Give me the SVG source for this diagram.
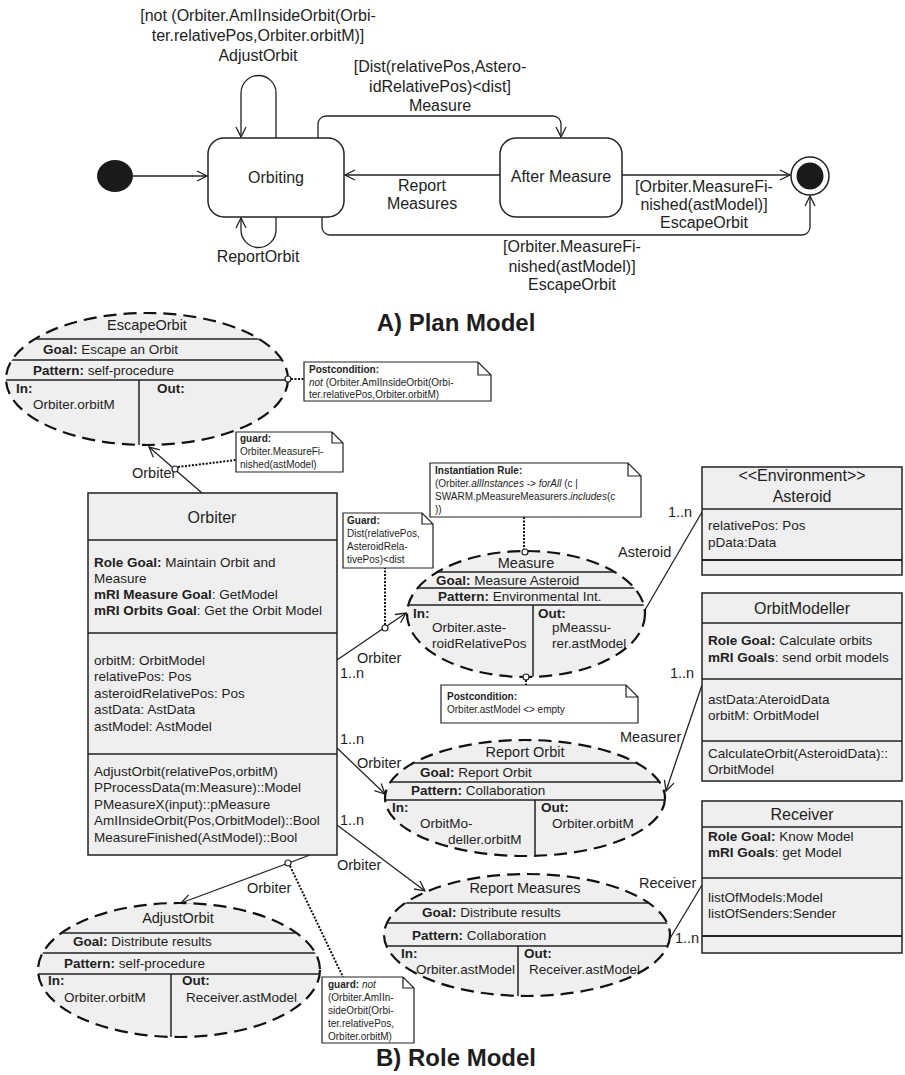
<svg xmlns="http://www.w3.org/2000/svg" width="905" height="1075" viewBox="0 0 905 1075">
<defs>
<style>
text{font-family:"Liberation Sans",Arial,sans-serif;fill:#1e1e1e}
.p{font-size:16px}
.c{text-anchor:middle}
.b{font-weight:bold}
.i{font-style:italic}
.cl{font-size:13.5px}
.ct{font-size:16px}
.et{font-size:14.5px}
.eb{font-size:13.5px}
.lb{font-size:14.5px}
.n{font-size:10px}
.ttl{font-size:24px;font-weight:bold}
.ln{stroke:#222;stroke-width:1.3;fill:none}
.st{fill:#fff;stroke:#222;stroke-width:1.5}
.box{fill:#efefef;stroke:#222;stroke-width:1.5}
.sep{stroke:#222;stroke-width:1.5;fill:none}
.ell{fill:#efefef;stroke:#111;stroke-width:2.2;stroke-dasharray:13 7}
.note{fill:#fff;stroke:#222;stroke-width:1.2}
.dot{stroke:#111;stroke-width:2;stroke-dasharray:2 1.5;fill:none}
.knob{fill:#fff;stroke:#222;stroke-width:1.2}
</style>
<marker id="a" markerWidth="12" markerHeight="12" refX="11" refY="6" orient="auto" markerUnits="userSpaceOnUse"><path d="M1,1 L11,6 L1,11" fill="none" stroke="#222" stroke-width="1.3"/></marker>
<clipPath id="ce"><ellipse cx="147" cy="379" rx="141" ry="66"/></clipPath>
<clipPath id="cm"><ellipse cx="526" cy="614" rx="119" ry="63"/></clipPath>
<clipPath id="cro"><ellipse cx="525" cy="798" rx="140" ry="58"/></clipPath>
<clipPath id="crm"><ellipse cx="527" cy="935" rx="143" ry="61"/></clipPath>
<clipPath id="ca"><ellipse cx="179" cy="970" rx="141" ry="67"/></clipPath>
</defs>
<rect width="905" height="1075" fill="#fff"/>

<!-- Plan model -->
<g id="plan-connectors" class="ln">
<path d="M133,176 H207" marker-end="url(#a)"/>
<path d="M276,138 V93 A17.5,17.5 0 0 0 241,93 V137" marker-end="url(#a)"/>
<path d="M276,217 V230 A17.5,17.5 0 0 1 241,230 V218" marker-end="url(#a)"/>
<path d="M318,138 V124 A8,8 0 0 1 326,116 H553 A8,8 0 0 1 561,124 V137" marker-end="url(#a)"/>
<path d="M500,175 H345" marker-end="url(#a)"/>
<path d="M622,175 H790" marker-end="url(#a)"/>
<path d="M322,217 V227 A8,8 0 0 0 330,235 H802 A8,8 0 0 0 810,227 V196" marker-end="url(#a)"/>
</g>
<g id="plan-labels">
<text x="258" y="21" class="p c">[not (Orbiter.AmIInsideOrbit(Orbi-</text>
<text x="258" y="41" class="p c">ter.relativePos,Orbiter.orbitM)]</text>
<text x="258" y="61" class="p c">AdjustOrbit</text>
<text x="440" y="72" class="p c">[Dist(relativePos,Astero-</text>
<text x="440" y="92" class="p c">idRelativePos)&lt;dist]</text>
<text x="440" y="111" class="p c">Measure</text>
<text x="422" y="191" class="p c">Report</text>
<text x="422" y="209" class="p c">Measures</text>
<text x="704" y="192" class="p c">[Orbiter.MeasureFi-</text>
<text x="704" y="210" class="p c">nished(astModel)]</text>
<text x="704" y="228" class="p c">EscapeOrbit</text>
<text x="572" y="252" class="p c">[Orbiter.MeasureFi-</text>
<text x="572" y="272" class="p c">nished(astModel)]</text>
<text x="572" y="290" class="p c">EscapeOrbit</text>
<text x="258" y="262" class="p c">ReportOrbit</text>
</g>
<g id="initial"><ellipse cx="115" cy="176" rx="18" ry="16" fill="#1a1a1a"/></g>
<g id="orbiting"><rect x="208" y="138" width="136" height="79" rx="16" class="st"/><text x="276" y="183" class="p c">Orbiting</text></g>
<g id="after-measure"><rect x="500" y="138" width="122" height="79" rx="16" class="st"/><text x="561" y="182" class="p c">After Measure</text></g>
<g id="final"><circle cx="810" cy="176" r="19" class="st"/><circle cx="810" cy="176" r="13.5" fill="#1a1a1a"/></g>
<text x="456" y="331" class="ttl c">A) Plan Model</text>

<!-- Role model connectors -->
<g id="role-connectors">
<g class="ln">
<path d="M202,493 L149,447" marker-end="url(#a)"/>
<path d="M337,660 L406,613" marker-end="url(#a)"/>
<path d="M337,748 L385,794" marker-end="url(#a)"/>
<path d="M337,825 L425,891" marker-end="url(#a)"/>
<path d="M310,855 L181,903" marker-end="url(#a)"/>
<path d="M702,512 L645,610"/>
<path d="M702,685 L666,791" marker-end="url(#a)"/>
<path d="M702,885 L669,940"/>
</g>
<g class="dot">
<path d="M291,379 H304"/>
<path d="M178,467 L236,460"/>
<path d="M385,625 V568"/>
<path d="M524,517 V549"/>
<path d="M526,680 V685"/>
<path d="M290,866 L343,977"/>
</g>
<g class="lb">
<text x="132" y="478">Orbiter</text>
<text x="357" y="663">Orbiter</text>
<text x="340" y="678">1..n</text>
<text x="340" y="744">1..n</text>
<text x="357" y="768">Orbiter</text>
<text x="340" y="825">1..n</text>
<text x="337" y="870">Orbiter</text>
<text x="247" y="893">Orbiter</text>
<text x="618" y="557">Asteroid</text>
<text x="668" y="517">1..n</text>
<text x="670" y="678">1..n</text>
<text x="620" y="742">Measurer</text>
<text x="639" y="888">Receiver</text>
<text x="675" y="943">1..n</text>
</g>
</g>

<!-- EscapeOrbit -->
<g id="escape-orbit">
<ellipse cx="147" cy="379" rx="141" ry="66" class="ell"/>
<path clip-path="url(#ce)" class="sep" d="M0,339 H300 M0,360 H300 M0,380 H300 M139,380 V450"/>
<text x="147" y="330" class="et c">EscapeOrbit</text>
<text x="43" y="354" class="eb"><tspan class="b">Goal:</tspan> Escape an Orbit</text>
<text x="33" y="375" class="eb"><tspan class="b">Pattern:</tspan> self-procedure</text>
<text x="16" y="393" class="eb b">In:</text>
<text x="157" y="393" class="eb b">Out:</text>
<text x="33" y="409" class="eb">Orbiter.orbitM</text>
<circle cx="288" cy="379" r="3" class="knob"/>
</g>
<g id="note-escape-post">
<path d="M304,362 H478 L491,375 V401 H304 Z M478,362 V375 H491" class="note"/>
<text x="309" y="373" class="n b">Postcondition:</text>
<text x="309" y="386" class="n"><tspan class="i">not</tspan> (Orbiter.AmIInsideOrbit(Orbi-</text>
<text x="309" y="398" class="n">ter.relativePos,Orbiter.orbitM)</text>
</g>
<g id="note-escape-guard">
<path d="M236,432 H332 L343,443 V472 H236 Z M332,432 V443 H343" class="note"/>
<text x="240" y="442" class="n b">guard:</text>
<text x="240" y="455" class="n">Orbiter.MeasureFi-</text>
<text x="240" y="468" class="n">nished(astModel)</text>
<circle cx="175" cy="469" r="3" class="knob"/>
</g>

<!-- Orbiter -->
<g id="orbiter">
<rect x="88" y="493" width="249" height="362" class="box"/>
<path class="sep" d="M88,540 H337 M88,633 H337 M88,754 H337"/>
<text x="212" y="523" class="ct c">Orbiter</text>
<g class="cl">
<text x="94" y="567"><tspan class="b">Role Goal:</tspan> Maintain Orbit and</text>
<text x="94" y="583">Measure</text>
<text x="94" y="599"><tspan class="b">mRI Measure Goal</tspan>: GetModel</text>
<text x="94" y="615"><tspan class="b">mRI Orbits Goal</tspan>: Get the Orbit Model</text>
<text x="94" y="665">orbitM: OrbitModel</text>
<text x="94" y="681">relativePos: Pos</text>
<text x="94" y="698">asteroidRelativePos: Pos</text>
<text x="94" y="714">astData: AstData</text>
<text x="94" y="731">astModel: AstModel</text>
<text x="94" y="776">AdjustOrbit(relativePos,orbitM)</text>
<text x="94" y="792">PProcessData(m:Measure)::Model</text>
<text x="94" y="809">PMeasureX(input)::pMeasure</text>
<text x="94" y="825">AmIInsideOrbit(Pos,OrbitModel)::Bool</text>
<text x="94" y="842">MeasureFinished(AstModel)::Bool</text>
</g>
</g>

<!-- Measure -->
<g id="measure">
<ellipse cx="526" cy="614" rx="119" ry="63" class="ell"/>
<path clip-path="url(#cm)" class="sep" d="M400,572 H660 M400,588 H660 M400,605 H660 M533,605 V680"/>
<text x="526" y="568" class="et c">Measure</text>
<text x="436" y="585" class="eb"><tspan class="b">Goal:</tspan> Measure Asteroid</text>
<text x="438" y="601" class="eb"><tspan class="b">Pattern:</tspan> Environmental Int.</text>
<text x="413" y="618" class="eb b">In:</text>
<text x="538" y="618" class="eb b">Out:</text>
<text x="432" y="632" class="eb">Orbiter.aste-</text>
<text x="432" y="648" class="eb">roidRelativePos</text>
<text x="552" y="632" class="eb">pMeassu-</text>
<text x="552" y="648" class="eb">rer.astModel</text>
<circle cx="525" cy="552" r="3" class="knob"/>
<circle cx="526" cy="677" r="3" class="knob"/>
</g>
<g id="note-instantiation">
<path d="M430,463 H628 L641,476 V517 H430 Z M628,463 V476 H641" class="note"/>
<text x="435" y="474" class="n b">Instantiation Rule:</text>
<text x="435" y="487" class="n">(Orbiter.<tspan class="i">allInstances</tspan> -&gt; <tspan class="i">forAll</tspan> (c |</text>
<text x="435" y="500" class="n">SWARM.pMeasureMeasurers.<tspan class="i">includes</tspan>(c</text>
<text x="435" y="513" class="n">))</text>
</g>
<g id="note-measure-guard">
<path d="M343,513 H422 L433,524 V568 H343 Z M422,513 V524 H433" class="note"/>
<text x="347" y="524" class="n b">Guard:</text>
<text x="347" y="537" class="n">Dist(relativePos,</text>
<text x="347" y="550" class="n">AsteroidRela-</text>
<text x="347" y="563" class="n">tivePos)&lt;dist</text>
<circle cx="385" cy="628" r="3" class="knob"/>
</g>
<g id="note-measure-post">
<path d="M441,685 H626 L638,697 V723 H441 Z M626,685 V697 H638" class="note"/>
<text x="447" y="700" class="n b">Postcondition:</text>
<text x="447" y="713" class="n">Orbiter.astModel &lt;&gt; empty</text>
</g>

<!-- Asteroid -->
<g id="asteroid">
<rect x="702" y="467" width="200" height="108" class="box"/>
<path class="sep" d="M702,509 H902"/>
<path d="M702,560 H902" stroke="#222" stroke-width="2.2"/>
<text x="802" y="481" class="ct c">&lt;&lt;Environment&gt;&gt;</text>
<text x="802" y="502" class="ct c">Asteroid</text>
<text x="708" y="530" class="cl">relativePos: Pos</text>
<text x="708" y="547" class="cl">pData:Data</text>
</g>

<!-- OrbitModeller -->
<g id="orbit-modeller">
<rect x="702" y="593" width="200" height="188" class="box"/>
<path class="sep" d="M702,623 H902 M702,679 H902 M702,741 H902"/>
<text x="802" y="614" class="ct c">OrbitModeller</text>
<g class="cl">
<text x="708" y="645"><tspan class="b">Role Goal:</tspan> Calculate orbits</text>
<text x="708" y="662"><tspan class="b">mRI Goals</tspan>: send orbit models</text>
<text x="708" y="704">astData:AteroidData</text>
<text x="708" y="720">orbitM: OrbitModel</text>
<text x="708" y="758">CalculateOrbit(AsteroidData)::</text>
<text x="708" y="774">OrbitModel</text>
</g>
</g>

<!-- Receiver -->
<g id="receiver">
<rect x="702" y="801" width="200" height="152" class="box"/>
<path class="sep" d="M702,827 H902 M702,878 H902"/>
<path d="M702,936 H902" stroke="#222" stroke-width="2.2"/>
<text x="802" y="820" class="ct c">Receiver</text>
<g class="cl">
<text x="708" y="841"><tspan class="b">Role Goal:</tspan> Know Model</text>
<text x="708" y="857"><tspan class="b">mRI Goals</tspan>: get Model</text>
<text x="708" y="902">listOfModels:Model</text>
<text x="708" y="918">listOfSenders:Sender</text>
</g>
</g>

<!-- Report Orbit -->
<g id="report-orbit">
<ellipse cx="525" cy="798" rx="140" ry="58" class="ell"/>
<path clip-path="url(#cro)" class="sep" d="M380,763 H670 M380,782 H670 M380,800 H670 M535,800 V860"/>
<text x="525" y="757" class="et c">Report Orbit</text>
<text x="420" y="777" class="eb"><tspan class="b">Goal:</tspan> Report Orbit</text>
<text x="411" y="795" class="eb"><tspan class="b">Pattern:</tspan> Collaboration</text>
<text x="392" y="812" class="eb b">In:</text>
<text x="541" y="812" class="eb b">Out:</text>
<text x="420" y="828" class="eb">OrbitMo-</text>
<text x="448" y="844" class="eb">deller.orbitM</text>
<text x="552" y="828" class="eb">Orbiter.orbitM</text>
</g>

<!-- Report Measures -->
<g id="report-measures">
<ellipse cx="527" cy="935" rx="143" ry="61" class="ell"/>
<path clip-path="url(#crm)" class="sep" d="M380,903 H675 M380,923 H675 M380,946 H675 M518,946 V1000"/>
<text x="525" y="893" class="et c">Report Measures</text>
<text x="422" y="917" class="eb"><tspan class="b">Goal:</tspan> Distribute results</text>
<text x="412" y="940" class="eb"><tspan class="b">Pattern:</tspan> Collaboration</text>
<text x="401" y="958" class="eb b">In:</text>
<text x="524" y="958" class="eb b">Out:</text>
<text x="416" y="974" class="eb">Orbiter.astModel</text>
<text x="529" y="974" class="eb">Receiver.astModel</text>
</g>

<!-- AdjustOrbit -->
<g id="adjust-orbit">
<ellipse cx="179" cy="970" rx="141" ry="67" class="ell"/>
<path clip-path="url(#ca)" class="sep" d="M30,933 H330 M30,953 H330 M30,974 H330 M171,974 V1040"/>
<text x="178" y="923" class="et c">AdjustOrbit</text>
<text x="73" y="946" class="eb"><tspan class="b">Goal:</tspan> Distribute results</text>
<text x="64" y="968" class="eb"><tspan class="b">Pattern:</tspan> self-procedure</text>
<text x="48" y="985" class="eb b">In:</text>
<text x="182" y="985" class="eb b">Out:</text>
<text x="64" y="1002" class="eb">Orbiter.orbitM</text>
<text x="186" y="1002" class="eb">Receiver.astModel</text>
<circle cx="288" cy="863" r="3" class="knob"/>
</g>
<g id="note-adjust-guard">
<path d="M322,977 H403 L414,988 V1043 H322 Z M403,977 V988 H414" class="note"/>
<text x="328" y="988" class="n"><tspan class="b">guard:</tspan> <tspan class="i">not</tspan></text>
<text x="328" y="1001" class="n">(Orbiter.AmIIn-</text>
<text x="328" y="1014" class="n">sideOrbit(Orbi-</text>
<text x="328" y="1027" class="n">ter.relativePos,</text>
<text x="328" y="1040" class="n">Orbiter.orbitM)</text>
</g>

<text x="456" y="1066" class="ttl c">B) Role Model</text>
</svg>
